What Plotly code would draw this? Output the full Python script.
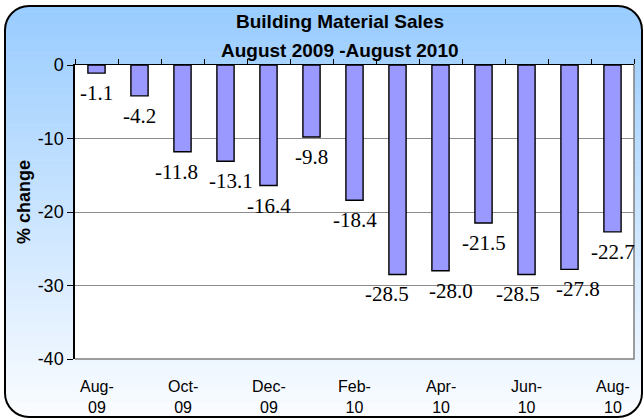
import plotly.graph_objects as go

# ---- data ----
months = ["Aug-09", "Sep-09", "Oct-09", "Nov-09", "Dec-09", "Jan-10", "Feb-10",
          "Mar-10", "Apr-10", "May-10", "Jun-10", "Jul-10", "Aug-10"]
pct_change = [-1.1, -4.2, -11.8, -13.1, -16.4, -9.8, -18.4,
              -28.5, -28.0, -21.5, -28.5, -27.8, -22.7]
x_tick_labels = ["Aug-<br>09", "Oct-<br>09", "Dec-<br>09", "Feb-<br>10",
                 "Apr-<br>10", "Jun-<br>10", "Aug-<br>10"]
x_tick_cats = months[::2]
y_ticks = [0, -10, -20, -30, -40]
y_tick_labels = ["0", "-10", "-20", "-30", "-40"]
title_lines = ["Building Material Sales", "August 2009 -August 2010"]
y_title = "% change"

W, H = 643, 419


def px(x):
    return x / W


def py(y):
    return 1 - y / H


def pt(x, y):
    return f"{px(x):.5f},{py(y):.5f}"


fig = go.Figure()
fig.add_trace(go.Bar(
    x=months, y=pct_change, width=0.4,
    marker=dict(color="#9999FF", line=dict(color="black", width=1.4)),
    hoverinfo="x+y",
))

shapes = []
# gradient background inside rounded border
bx0, by0, bx1, by1, r = 5, 6, 642, 417, 24
N = 80
top_c = (153, 204, 255)
bot_c = (250, 252, 255)
for i in range(N):
    t = i / (N - 1)
    c = tuple(int(round(top_c[k] + (bot_c[k] - top_c[k]) * t)) for k in range(3))
    ya = by0 + (by1 - by0) * i / N
    yb = by0 + (by1 - by0) * (i + 1) / N + 0.6
    shapes.append(dict(type="rect", xref="paper", yref="paper", layer="below",
                       x0=px(bx0), x1=px(bx1), y0=py(ya), y1=py(min(yb, by1)),
                       fillcolor=f"rgb{c}", line=dict(width=0)))

k = 0.5523 * r
# white corner masks
masks = [
    f"M{pt(bx0-1,by0-1)} L{pt(bx0+r,by0-1)} L{pt(bx0+r,by0)} C{pt(bx0+r-k,by0)} {pt(bx0,by0+r-k)} {pt(bx0,by0+r)} L{pt(bx0-1,by0+r)} Z",
    f"M{pt(bx1+1,by0-1)} L{pt(bx1-r,by0-1)} L{pt(bx1-r,by0)} C{pt(bx1-r+k,by0)} {pt(bx1,by0+r-k)} {pt(bx1,by0+r)} L{pt(bx1+1,by0+r)} Z",
    f"M{pt(bx1+1,by1+1)} L{pt(bx1-r,by1+1)} L{pt(bx1-r,by1)} C{pt(bx1-r+k,by1)} {pt(bx1,by1-r+k)} {pt(bx1,by1-r)} L{pt(bx1+1,by1-r)} Z",
    f"M{pt(bx0-1,by1+1)} L{pt(bx0+r,by1+1)} L{pt(bx0+r,by1)} C{pt(bx0+r-k,by1)} {pt(bx0,by1-r+k)} {pt(bx0,by1-r)} L{pt(bx0-1,by1-r)} Z",
]
for m in masks:
    shapes.append(dict(type="path", xref="paper", yref="paper", layer="below",
                       path=m, fillcolor="white", line=dict(width=0)))

# rounded border
border = (f"M{pt(bx0+r,by0)} L{pt(bx1-r,by0)} C{pt(bx1-r+k,by0)} {pt(bx1,by0+r-k)} {pt(bx1,by0+r)} "
          f"L{pt(bx1,by1-r)} C{pt(bx1,by1-r+k)} {pt(bx1-r+k,by1)} {pt(bx1-r,by1)} "
          f"L{pt(bx0+r,by1)} C{pt(bx0+r-k,by1)} {pt(bx0,by1-r+k)} {pt(bx0,by1-r)} "
          f"L{pt(bx0,by0+r)} C{pt(bx0,by0+r-k)} {pt(bx0+r-k,by0)} {pt(bx0+r,by0)} Z")
shapes.append(dict(type="path", xref="paper", yref="paper", layer="below",
                   path=border, line=dict(color="black", width=2)))

# plot area white
PL, PR, PT, PB = 75, 634, 65, 359
shapes.append(dict(type="rect", xref="paper", yref="paper", layer="below",
                   x0=px(PL), x1=px(PR), y0=py(PB), y1=py(PT),
                   fillcolor="white", line=dict(width=0)))
# right & bottom plot border (gray)
shapes.append(dict(type="path", xref="paper", yref="paper", layer="above",
                   path=f"M{pt(PR,PT)} L{pt(PR,PB)} L{pt(PL,PB)}",
                   line=dict(color="#7f7f7f", width=1.5)))

# simple label-collision avoidance: neighbours at similar depths are pushed apart
px_per_unit = (PB - PT) / 40.0
label_h = 18.0
xshift = [0.0] * len(pct_change)
for i in range(len(pct_change) - 1):
    dy = abs(pct_change[i] - pct_change[i + 1]) * px_per_unit
    push = max(0.0, label_h - dy) * 0.7
    xshift[i] -= push
    xshift[i + 1] += push

annotations = []
# data labels
for m, v, dx in zip(months, pct_change, xshift):
    annotations.append(dict(x=m, y=v, xref="x", yref="y", text=f"{v:.1f}",
                            showarrow=False, yanchor="middle", yshift=-20, xshift=dx,
                            font=dict(family="Liberation Serif, Times New Roman, serif",
                                      size=21, color="black")))
# x tick labels at bottom
for c, lab in zip(x_tick_cats, x_tick_labels):
    annotations.append(dict(x=c, xref="x", y=py(397), yref="paper", text=lab,
                            showarrow=False, yanchor="middle",
                            font=dict(family="Liberation Sans, Arial, sans-serif",
                                      size=16, color="black")))
# title
for i, line in enumerate(title_lines):
    annotations.append(dict(x=px(340), y=py(22 + 28 * i), xref="paper", yref="paper",
                            text=f"<b>{line}</b>", showarrow=False,
                            xanchor="center", yanchor="middle",
                            font=dict(family="Liberation Sans, Arial, sans-serif",
                                      size=19, color="black")))
# y title
annotations.append(dict(x=px(24), y=py(202), xref="paper", yref="paper",
                        text=f"<b>{y_title}</b>", textangle=-90, showarrow=False,
                        xanchor="center", yanchor="middle",
                        font=dict(family="Liberation Sans, Arial, sans-serif",
                                  size=18, color="black")))

fig.update_layout(
    width=W, height=H,
    autosize=False,
    margin=dict(l=0, r=0, t=0, b=0, pad=0),
    paper_bgcolor="white", plot_bgcolor="white",
    showlegend=False,
    shapes=shapes, annotations=annotations,
    bargap=0.6,
    xaxis=dict(domain=[px(PL), px(PR)], type="category", side="top",
               range=[-0.5, len(months) - 0.5], automargin=False,
               showticklabels=False, ticks="outside", ticklen=5, tickcolor="black",
               tickson="boundaries", showline=True, linecolor="black", linewidth=1,
               showgrid=False, zeroline=False),
    yaxis=dict(domain=[py(PB), py(PT)], range=[-40, 0], automargin=False,
               tickvals=y_ticks, ticktext=y_tick_labels,
               ticks="outside", ticklen=6, tickcolor="black",
               showline=True, linecolor="black", linewidth=1.5,
               showgrid=True, gridcolor="#8c8c8c", gridwidth=1, zeroline=False,
               tickfont=dict(family="Liberation Sans, Arial, sans-serif", size=18,
                             color="black")),
)

fig.write_html("out.html", config={"displayModeBar": False},
               post_script="document.body.style.margin='0';document.body.style.overflow='hidden';")
